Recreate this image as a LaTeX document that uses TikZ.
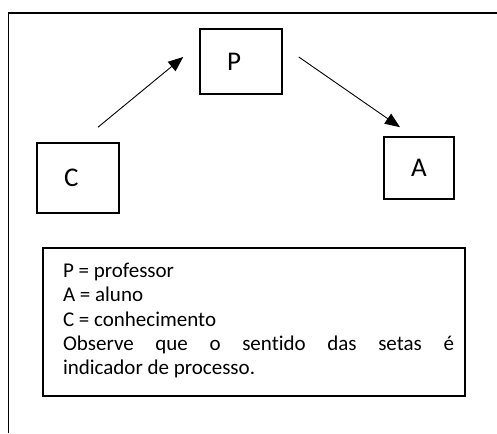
\documentclass[tikz,border=0pt]{standalone}
\usepackage{fontspec}
\setmainfont{Carlito}[Ligatures=NoCommon]
\usetikzlibrary{arrows.meta}

\begin{document}
\begin{tikzpicture}[x=1pt, y=-1pt]
		\tikzstyle{box}=[
		draw,
		rectangle,
		line width=1.6pt,
		align=left,
		inner xsep=27pt,
		font=\fontsize{27}{32}\selectfont]
		\tikzstyle{keytext}=[
		rectangle,
		inner sep=0pt,
		text width=391pt,
		minimum height=148pt,
		align=justify,
		font=\fontsize{21}{24.2}\selectfont]
		\tikzstyle{flow}=[
		line width=0.9pt,
		-{Triangle[length=15pt,width=12pt]}]
		\useasboundingbox (0,0) rectangle (497,433);
		\draw[line width=1.6pt] (8.5,433) |- (497,13);
		%
		\node[box, text width=28pt, minimum height=65pt] (P) at (241,61.5) {P};
		\node[box, text width=28pt, minimum height=70pt] (C) at (78,178) {C};
		\node[box, text width=16pt, minimum height=62pt] (A) at (419,168) {A};
		%
		\draw[flow] ([xshift=20pt,yshift=15pt]C.north) -- ([xshift=-16pt,yshift=4.5pt]P.west);
		\draw[flow] ([xshift=16pt,yshift=4.5pt]P.east) -- ([xshift=-19pt,yshift=9pt]A.north);
		%
		\node[keytext] (key) at (258.5,320.5) {P = professor\\A = aluno\\C = conhecimento\\Observe que o sentido das setas é\linebreak indicador de processo.};
		\draw[line width=1.6pt] ([xshift=-20pt,yshift=-1.5pt]key.north west) rectangle ([xshift=11pt,yshift=-1.5pt]key.south east);
	\end{tikzpicture}
\end{document}
